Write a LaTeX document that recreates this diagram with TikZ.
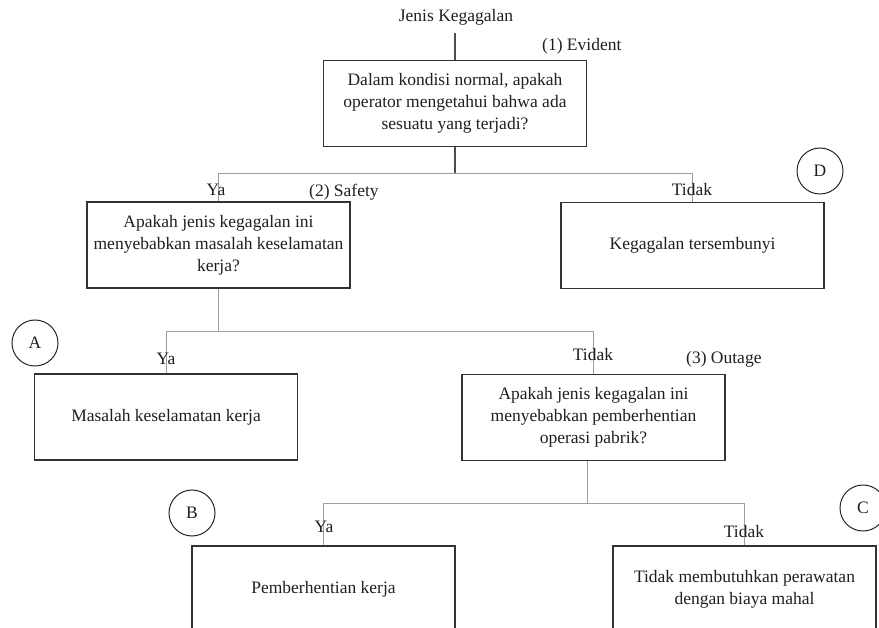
\documentclass[tikz,border=0pt]{standalone}
\usepackage{fontspec}
\setmainfont{Liberation Serif}
\begin{document}
\begin{tikzpicture}[x=1pt,y=-1pt,
  every node/.style={font=\fontsize{17.5}{22}\selectfont, text=black!88},
  box/.style={draw=black!80, line width=1.3pt, minimum width=263pt, minimum height=86pt, align=center, inner sep=0pt},
  conn/.style={draw=black!38, line width=1pt},
  trunk/.style={draw=black!70, line width=1.1pt},
  lbl/.style={inner sep=0pt},
  letter/.style={draw=black!85, circle, minimum size=46pt, inner sep=0pt, line width=1pt}]
\useasboundingbox (0,0) rectangle (879,628);
\clip (0,0) rectangle (879,628);

% boxes
\node[box] (q1) at (455,103.5) {Dalam kondisi normal, apakah\\operator mengetahui bahwa ada\\sesuatu yang terjadi?};
\node[box] (q2) at (218.5,245) {Apakah jenis kegagalan ini\\menyebabkan masalah keselamatan\\kerja?};
\node[box] (qd) at (692.5,245.5) {Kegagalan tersembunyi};
\node[box] (qa) at (166,417) {Masalah keselamatan kerja};
\node[box] (q3) at (593.5,417.5) {Apakah jenis kegagalan ini\\menyebabkan pemberhentian\\operasi pabrik?};
\node[box] (qb) at (323.5,589) {Pemberhentian kerja};
\node[box] (qc) at (744.5,589) {Tidak membutuhkan perawatan\\dengan biaya mahal};

% junction points
\coordinate (t0) at (455,33);
\coordinate (s1) at (455,174);
\coordinate (s1l) at (218.5,174);
\coordinate (s1r) at (692.5,174);
\coordinate (s2) at (218.5,332);
\coordinate (s2l) at (166,332);
\coordinate (s2r) at (593.5,332);
\coordinate (s3) at (587,503);
\coordinate (s3l) at (323.5,503);
\coordinate (s3r) at (744.5,503);

% connectors
\draw[trunk] (t0) -- (q1.north);
\draw[trunk] (q1.south) -- (s1);
\draw[conn] (q2.north) -- (s1l) -- (s1r) -- (qd.north);
\draw[conn] (q2.south) -- (s2);
\draw[conn] (qa.north) -- (s2l) -- (s2r) -- (q3.north);
\draw[conn] ([xshift=-6.5pt]q3.south) -- (s3);
\draw[conn] (qb.north) -- (s3l) -- (s3r) -- (qc.north);

% labels
\node[lbl] (title) at (456,17) {Jenis Kegagalan};
\node[lbl,anchor=west] (ev) at (542,46) {(1) Evident};
\node[lbl] (ya1) at (216,190) {Ya};
\node[lbl,anchor=west] (sf) at (309,192) {(2) Safety};
\node[lbl] (td1) at (692,190) {Tidak};
\node[lbl] (ya2) at (166,359) {Ya};
\node[lbl] (td2) at (593,355) {Tidak};
\node[lbl,anchor=west] (ou) at (686,359) {(3) Outage};
\node[lbl] (ya3) at (324,527) {Ya};
\node[lbl] (td3) at (744,532) {Tidak};

% circles
\node[letter] (cd) at (820,171) {D};
\node[letter] (ca) at (35,343) {A};
\node[letter] (cb) at (192,513) {B};
\node[letter] (cc) at (863,508) {C};
\end{tikzpicture}
\end{document}
